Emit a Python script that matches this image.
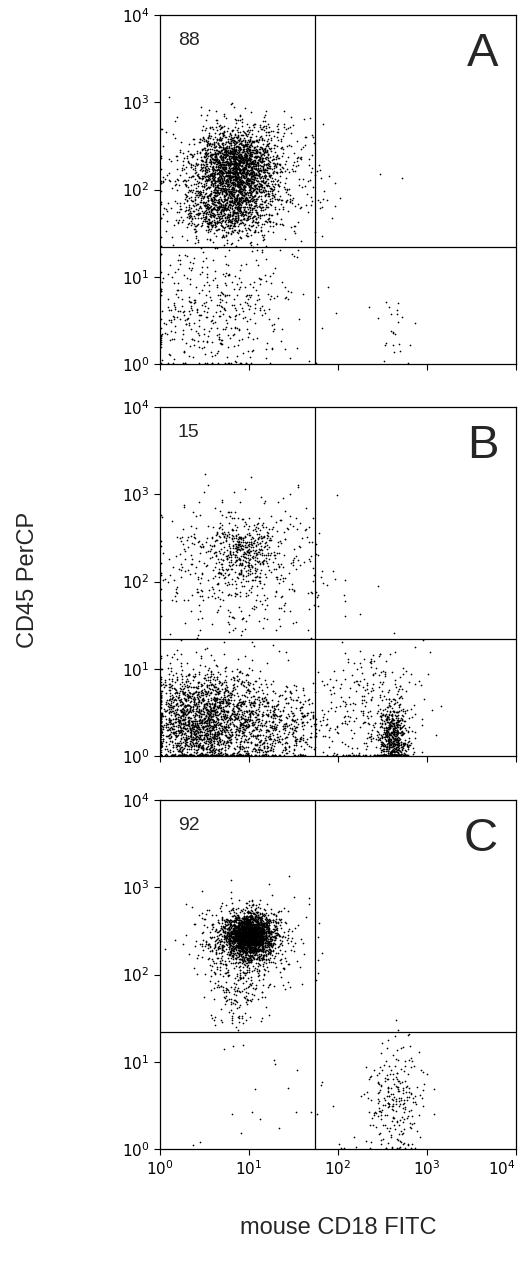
import numpy as np, pandas as pd, matplotlib
matplotlib.use("Agg")
import matplotlib.pyplot as plt, seaborn as sns

panels = ["A", "B", "C"]
upper_left_pct = ["88", "15", "92"]
x_gate = 55.0
y_gate = 22.0
tick_vals = [1, 10, 100, 1000, 10000]
tick_labels = [r"$10^0$", r"$10^1$", r"$10^2$", r"$10^3$", r"$10^4$"]
# cluster descriptors: (log10 x centre, log10 y centre, sd x, sd y, count)
clusters_A = [(0.85, 2.25, 0.22, 0.22, 2000), (0.75, 1.75, 0.25, 0.15, 700),
              (0.9, 2.1, 0.45, 0.35, 700), (0.6, 0.6, 0.45, 0.4, 450), (2.6, 0.35, 0.1, 0.25, 25)]
clusters_B = [(0.95, 2.35, 0.18, 0.15, 250), (0.9, 2.2, 0.45, 0.4, 550),
              (0.45, 0.4, 0.3, 0.3, 1800), (1.1, 0.35, 0.4, 0.25, 900),
              (2.62, 0.2, 0.08, 0.2, 550), (2.4, 0.5, 0.3, 0.4, 300)]
clusters_C = [(1.0, 2.45, 0.14, 0.13, 2300), (0.95, 2.3, 0.3, 0.25, 500),
              (0.85, 1.75, 0.15, 0.2, 120), (2.65, 0.5, 0.17, 0.35, 250), (1.2, 0.3, 0.6, 0.4, 25)]
all_clusters = [clusters_A, clusters_B, clusters_C]

sns.set_style("white")
plt.rcParams['font.family'] = ['Liberation Sans', 'DejaVu Sans']
fig = plt.figure(figsize=(5.2, 12.68), dpi=100)
rng = np.random.default_rng(3)
tops = [15, 407, 800]
for i, (lab, pct, cl) in enumerate(zip(panels, upper_left_pct, all_clusters)):
    ax = fig.add_axes([160/520, 1 - (tops[i]+349)/1268, 356/520, 349/1268])
    xs, ys = [], []
    for cx, cy, sx, sy, n in cl:
        xs.append(rng.normal(cx, sx, n)); ys.append(rng.normal(cy, sy, n))
    lx = np.concatenate(xs); ly = np.concatenate(ys)
    keep = (ly > -0.15) & (lx > -0.15)
    lx = np.clip(lx[keep], 0.01, 3.99); ly = np.clip(ly[keep], 0.01, 3.99)
    df = pd.DataFrame({"x": 10**lx, "y": 10**ly})
    sns.scatterplot(data=df, x="x", y="y", s=1.5, color="black", linewidth=0, ax=ax)
    ax.set_xscale("log"); ax.set_yscale("log")
    ax.set_xlim(1, 1e4); ax.set_ylim(1, 1e4)
    ax.axvline(x_gate, color="black", lw=0.9); ax.axhline(y_gate, color="black", lw=0.9)
    ax.set_yticks(tick_vals); ax.set_yticklabels(tick_labels, fontsize=11, color="black")
    ax.set_xticks(tick_vals)
    ax.set_xticklabels(tick_labels if i == 2 else [], fontsize=11, color="black")
    if i == 2:
        ax.get_xticklabels()[-1].set_horizontalalignment("right")
    ax.minorticks_off()
    ax.tick_params(axis="both", direction="out", length=4, width=0.8, left=True, bottom=True, color="black")
    ax.set_xlabel(""); ax.set_ylabel("")
    for s in ax.spines.values():
        s.set_color("black"); s.set_linewidth(0.9)
    ax.text(0.05, 0.95, pct, transform=ax.transAxes, fontsize=14, va="top")
    ax.text(0.95, 0.95, lab, transform=ax.transAxes, fontsize=34, va="top", ha="right")
fig.text(28/520, 1 - 580/1268, "CD45 PerCP", rotation=90, fontsize=17, ha="center", va="center")
fig.text(338/520, 1 - 1228/1268, "mouse CD18 FITC", fontsize=17, ha="center", va="center")
fig.savefig("out.png", dpi=100)
